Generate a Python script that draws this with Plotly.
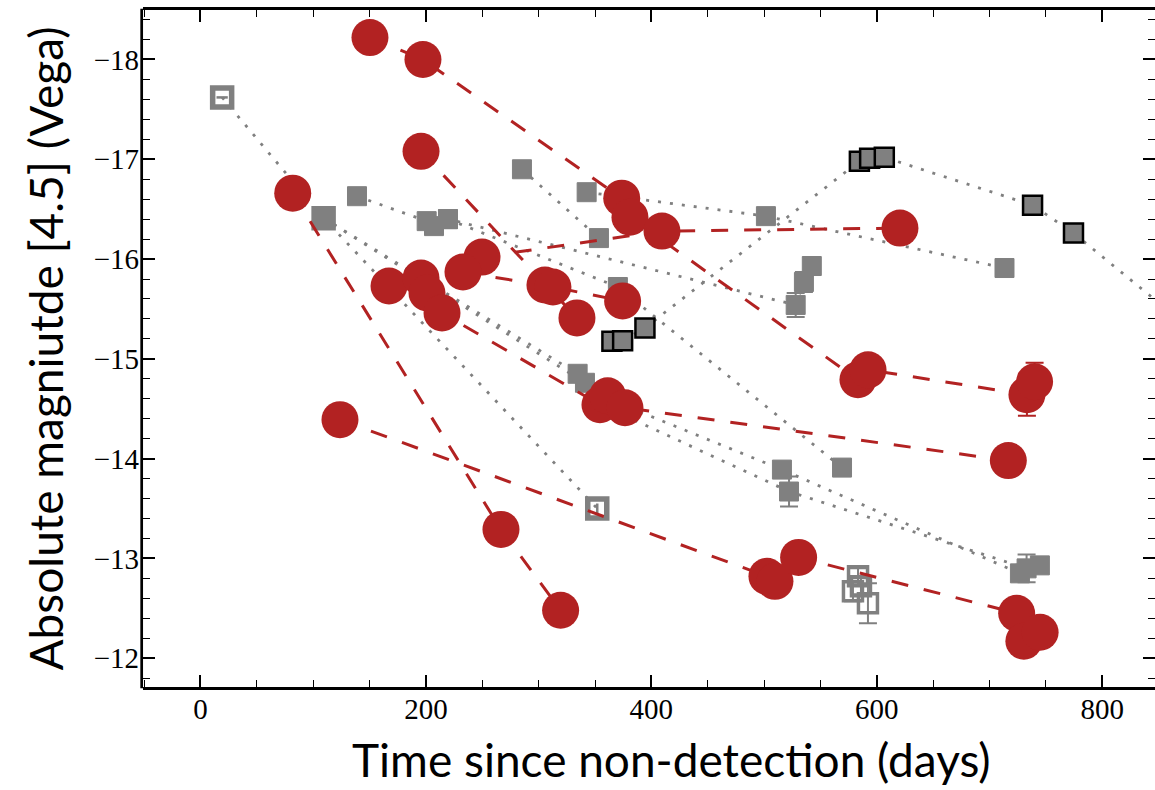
import plotly.graph_objects as go

# ---------------- data (time since non-detection [days], absolute mag [4.5]) ----------------
# red objects (circles, dashed lines)
r1_t = [150.4, 197.4, 373.7, 381.0, 583.2, 592.2, 733.1, 739.9]
r1_m = [-18.22, -18.00, -16.61, -16.42, -14.79, -14.89, -14.64, -14.77]
r1_err = [0, 0, 0, 0, 0, 0, 0.21, 0.19]
r2_t = [249.8, 409.4, 620.5]
r2_m = [-16.02, -16.28, -16.31]
r3_t = [195.7, 334.0]
r3_m = [-17.08, -15.41]
r4_t = [81.9, 266.6, 319.5]
r4_m = [-16.66, -13.29, -12.48]
r5_t = [167.3, 195.7, 201.0, 214.3, 354.4, 361.2, 376.6, 716.6]
r5_m = [-15.73, -15.81, -15.66, -15.46, -14.54, -14.63, -14.51, -13.98]
r6_t = [123.8, 502.5, 509.6, 530.6, 724.0, 730.4, 744.8]
r6_m = [-14.39, -12.82, -12.77, -13.01, -12.45, -12.17, -12.26]
r7_t = [232.9, 305.6, 312.7, 374.5]
r7_m = [-15.87, -15.74, -15.72, -15.58]

# grey objects (squares, dotted lines)
g1_t = [19.3, 109.3, 352.0]
g1_m = [-17.62, -16.41, -13.50]
g2_t = [138.9, 200.7, 207.2, 219.6, 528.0, 535.3, 542.3]
g2_m = [-16.63, -16.38, -16.33, -16.40, -15.54, -15.77, -15.93]
g2_err = [0, 0, 0, 0, 0.12, 0.10, 0.09]
g3_t = [285.2, 353.5]
g3_m = [-16.90, -16.21]
g4_t = [342.6, 501.6, 713.2]
g4_m = [-16.67, -16.43, -15.91]
g5_t = [109.3, 334.6, 363.3, 515.8, 726.9]
g5_m = [-16.41, -14.85, -14.59, -13.89, -12.85]
g6_t = [109.3, 341.1, 365.0, 522.1, 732.8, 744.6]
g6_m = [-16.41, -14.76, -14.49, -13.67, -12.90, -12.93]
g6_err = [0, 0, 0, 0.15, 0.14, 0]
g7_t = [219.6, 370.3, 569.1]
g7_m = [-16.40, -15.72, -13.91]
# open grey squares without connecting lines
g8_t = [583.3, 578.8, 585.9, 592.1]
g8_m = [-12.82, -12.67, -12.72, -12.55]
g8_err = [0.08, 0.10, 0.08, 0.20]

# black-edged grey squares (dotted line)
b1_t = [365.0, 374.5, 394.3, 584.5, 593.6, 606.6, 738.1, 774.4, 900.0]
b1_m = [-15.175, -15.18, -15.31, -16.98, -17.01, -17.02, -16.54, -16.26, -15.10]

x_ticks = [0, 200, 400, 600, 800]
y_ticks = [-18, -17, -16, -15, -14, -13, -12]

RED = '#B22222'
GREY = '#808080'
DOT = '3px,9px'
DASH = '17px,16px'

fig = go.Figure()


def add_grey(t, m, err=None, symbols=None, edge=GREY, lines=True, lw=None):
    sym = symbols if symbols is not None else 'square'
    if lw is None:
        lw = 2.5 if edge != GREY else 1
    tr = go.Scatter(
        x=t, y=m,
        mode='lines+markers' if lines else 'markers',
        line=dict(color=GREY, width=2.8, dash=DOT),
        marker=dict(symbol=sym, size=19, color=GREY, line=dict(color=edge, width=lw)),
        showlegend=False, hoverinfo='skip',
    )
    if err is not None:
        tr.error_y = dict(type='data', array=err, color=GREY, thickness=2, width=9)
    fig.add_trace(tr)


# grey series
add_grey(g1_t, g1_m, symbols=['square-open', 'square', 'square-open'], lw=5.5)
add_grey(g2_t, g2_m, err=g2_err)
add_grey(g3_t, g3_m)
add_grey(g4_t, g4_m)
add_grey(g5_t, g5_m)
add_grey(g6_t, g6_m, err=g6_err)
add_grey(g7_t, g7_m)
add_grey(g8_t, g8_m, err=g8_err, symbols='square-open', lines=False, lw=3.5)
# inner bars of the two hollow squares of the first grey object
fig.add_trace(go.Scatter(x=[g1_t[0], g1_t[2]], y=[g1_m[0], g1_m[2]], mode='markers',
                         marker=dict(symbol='square', size=1, color=GREY),
                         error_x=dict(type='data', array=[5, 0], color=GREY, thickness=2.5, width=0),
                         error_y=dict(type='data', array=[0, 0.05], color=GREY, thickness=2.5, width=0),
                         showlegend=False, hoverinfo='skip'))
add_grey(b1_t, b1_m, edge='black')

# red series
for t, m, err in [(r1_t, r1_m, r1_err), (r2_t, r2_m, None), (r3_t, r3_m, None),
                  (r4_t, r4_m, None), (r5_t, r5_m, None), (r6_t, r6_m, None),
                  (r7_t, r7_m, None)]:
    tr = go.Scatter(
        x=t, y=m, mode='lines+markers',
        line=dict(color=RED, width=3, dash=DASH),
        marker=dict(symbol='circle', size=37, color=RED, line=dict(width=0)),
        showlegend=False, hoverinfo='skip',
    )
    if err is not None:
        tr.error_y = dict(type='data', array=err, color=RED, thickness=2, width=9)
    fig.add_trace(tr)

axis_common = dict(
    ticks='inside', ticklen=12, tickwidth=1.6, tickcolor='black',
    showgrid=False, zeroline=False,
    tickfont=dict(family='Liberation Serif', size=29, color='black'),
)

fig.update_xaxes(range=[-50.9, 846.7], tickvals=x_ticks, ticktext=[str(v) for v in x_ticks],
                 showline=True, linecolor='black', linewidth=2.7, mirror='allticks',
                 minor=dict(dtick=50, tick0=0, ticks='inside', ticklen=7, tickwidth=1.4,
                            tickcolor='black', showgrid=False),
                 ticklabelstandoff=-6, **axis_common)
fig.update_yaxes(range=[-11.711, -18.496], tickvals=y_ticks,
                 ticktext=['\u2212' + str(abs(v)) for v in y_ticks],
                 showline=False, mirror='ticks',
                 minor=dict(dtick=0.2, tick0=0, ticks='inside', ticklen=7, tickwidth=1.4,
                            tickcolor='black', showgrid=False),
                 ticklabelstandoff=3, **axis_common)

fig.update_layout(
    width=1155, height=790,
    margin=dict(l=143, r=0, t=10, b=103),
    plot_bgcolor='white', paper_bgcolor='white',
    shapes=[dict(type='line', xref='paper', yref='paper', x0=-0.0013, x1=-0.0013, y0=-0.002, y1=1.002,
                 line=dict(color='black', width=2.7))],
    annotations=[
        dict(text='Time since non-detection (days)', xref='paper', yref='paper',
             x=(671.5 - 143) / 1012, y=(687 - 789) / 677, xanchor='center', yanchor='bottom',
             showarrow=False, font=dict(family='Lato', size=46, color='black')),
        dict(text='Absolute magniutde [4.5] (Vega)', xref='paper', yref='paper',
             x=(45 - 143) / 1012, y=0.5, xanchor='center', yanchor='middle', textangle=-90,
             showarrow=False, font=dict(family='Lato', size=46, color='black')),
    ],
)

fig.write_html('out.html')
